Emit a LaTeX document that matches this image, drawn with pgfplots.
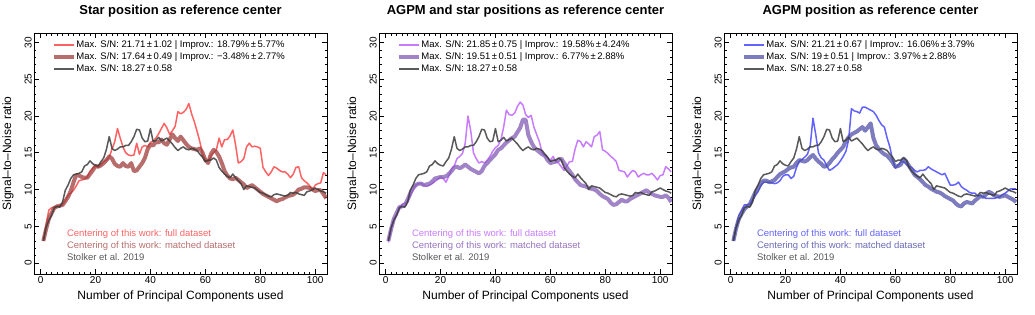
\documentclass[border=0pt]{standalone}
\usepackage{fontspec}
\setmainfont{Liberation Sans}
\usepackage{pgfplots}
\usepackage{pgfplotstable}
\pgfplotsset{compat=1.18}

\definecolor{redfull}{RGB}{255,70,70}
\definecolor{redmatch}{RGB}{160,60,60}
\definecolor{purfull}{RGB}{190,100,255}
\definecolor{purmatch}{RGB}{130,90,180}
\definecolor{blufull}{RGB}{70,70,255}
\definecolor{blumatch}{RGB}{80,80,170}
\definecolor{stolk}{RGB}{60,60,60}

% Stolker et al. 2019 reference curve (same in all panels)
\pgfplotstableread[row sep=\\]{
x y \\
1 3.0 \\ 2 4.8 \\ 3 5.8 \\ 4 6.5 \\ 5 7.5 \\ 6 7.7 \\ 7 7.6 \\ 8 8.3 \\ 9 9.9 \\ 10 10.6 \\
11 11.5 \\ 12 12.0 \\ 13 12.1 \\ 14 12.2 \\ 15 12.4 \\ 16 13.2 \\ 17 13.4 \\ 18 13.9 \\ 19 13.5 \\ 20 13.3 \\
21 13.2 \\ 22 13.8 \\ 23 14.3 \\ 24 15.5 \\ 25 17.2 \\ 26 15.6 \\ 27 15.3 \\ 28 15.5 \\ 29 15.8 \\ 30 15.8 \\
31 16.0 \\ 32 16.0 \\ 33 16.5 \\ 34 17.2 \\ 35 18.2 \\ 36 18.1 \\ 37 17.0 \\ 38 16.5 \\ 39 16.6 \\ 40 18.3 \\
41 16.5 \\ 42 16.7 \\ 43 17.1 \\ 44 16.6 \\ 45 16.8 \\ 46 17.0 \\ 47 16.6 \\ 48 16.2 \\ 49 15.7 \\ 50 15.3 \\
51 15.6 \\ 52 15.8 \\ 53 15.5 \\ 54 15.4 \\ 55 15.6 \\ 56 15.5 \\ 57 15.3 \\ 58 14.8 \\ 59 14.4 \\ 60 13.8 \\
61 14.0 \\ 62 14.0 \\ 63 14.3 \\ 64 14.0 \\ 65 13.0 \\ 66 12.5 \\ 67 12.1 \\ 68 11.8 \\ 69 11.6 \\ 70 12.1 \\
71 11.6 \\ 72 11.2 \\ 73 10.8 \\ 74 10.0 \\ 75 10.5 \\ 76 10.4 \\ 77 10.3 \\ 78 10.2 \\ 79 9.9 \\ 80 9.6 \\
81 9.5 \\ 82 9.3 \\ 83 9.1 \\ 84 9.0 \\ 85 9.3 \\ 86 9.4 \\ 87 9.3 \\ 88 9.2 \\ 89 9.1 \\ 90 9.2 \\
91 9.6 \\ 92 9.5 \\ 93 9.6 \\ 94 9.4 \\ 95 9.3 \\ 96 9.2 \\ 97 9.7 \\ 98 9.8 \\ 99 10.0 \\ 100 10.2 \\
101 10.0 \\ 102 9.8 \\ 103 9.7 \\ 104 9.5 \\
}\stolker

% star position as reference center: full, matched
\pgfplotstableread[row sep=\\]{
x full match \\
1 3.0 3.0 \\ 2 5.2 4.6 \\ 3 7.2 6.0 \\ 4 7.5 6.8 \\ 5 7.6 7.5 \\ 6 7.7 7.7 \\ 7 7.8 7.8 \\ 8 7.9 7.9 \\
9 8.5 8.4 \\ 10 9.2 9.0 \\ 11 9.5 9.8 \\ 12 9.9 11.0 \\ 13 10.5 12.0 \\ 14 11.2 11.9 \\ 15 11.3 11.7 \\
16 11.4 11.6 \\ 17 11.7 11.6 \\ 18 12.5 12.1 \\ 19 12.9 12.6 \\ 20 13.2 13.2 \\ 21 13.0 13.1 \\
22 13.4 13.3 \\ 23 13.8 13.6 \\ 24 14.0 14.0 \\ 25 14.4 14.5 \\ 26 15.5 14.2 \\ 27 16.5 13.5 \\
28 18.3 13.2 \\ 29 17.0 13.1 \\ 30 15.8 13.6 \\ 31 15.0 13.2 \\ 32 14.7 13.1 \\ 33 14.6 13.6 \\
34 14.7 12.5 \\ 35 16.3 12.6 \\ 36 14.8 13.1 \\ 37 15.8 13.6 \\ 38 16.0 14.3 \\ 39 15.8 15.5 \\
40 16.4 16.1 \\ 41 16.6 16.0 \\ 42 17.0 16.5 \\ 43 17.6 16.4 \\ 44 18.3 16.8 \\ 45 19.0 16.3 \\
46 18.4 16.1 \\ 47 17.5 16.8 \\ 48 18.0 17.5 \\ 49 18.6 17.0 \\ 50 20.6 16.6 \\ 51 20.3 17.2 \\
52 20.5 16.7 \\ 53 20.9 16.2 \\ 54 21.7 15.8 \\ 55 20.3 15.6 \\ 56 19.2 15.5 \\ 57 17.9 15.4 \\
58 16.5 15.6 \\ 59 14.8 15.0 \\ 60 14.0 14.0 \\ 61 13.8 13.6 \\ 62 14.5 14.8 \\ 63 15.0 15.4 \\
64 15.4 15.1 \\ 65 17.0 14.5 \\ 66 15.8 13.6 \\ 67 16.8 12.5 \\ 68 16.8 11.9 \\ 69 17.3 11.5 \\
70 18.1 11.4 \\ 71 16.1 11.6 \\ 72 13.6 11.3 \\ 73 13.8 11.0 \\ 74 14.2 10.7 \\ 75 15.8 10.2 \\
76 16.3 10.4 \\ 77 15.8 10.6 \\ 78 15.9 10.3 \\ 79 15.8 10.0 \\ 80 15.6 9.7 \\ 81 13.0 9.4 \\
82 12.4 9.2 \\ 83 11.9 9.0 \\ 84 12.4 8.8 \\ 85 13.1 8.6 \\ 86 12.9 8.4 \\ 87 12.6 8.6 \\
88 12.4 8.7 \\ 89 12.4 8.9 \\ 90 12.1 9.1 \\ 91 11.6 9.2 \\ 92 12.1 9.3 \\ 93 13.0 9.6 \\
94 13.1 10.0 \\ 95 11.6 10.1 \\ 96 11.2 10.3 \\ 97 10.9 10.3 \\ 98 10.5 10.2 \\ 99 9.9 10.0 \\
100 10.6 9.8 \\ 101 10.8 9.9 \\ 102 10.9 9.9 \\ 103 12.3 9.4 \\ 104 12.0 8.8 \\
}\starcen

% AGPM and star positions as reference center
\pgfplotstableread[row sep=\\]{
x full match \\
1 2.8 3.0 \\ 2 4.5 4.6 \\ 3 6.0 6.0 \\ 4 6.5 6.8 \\ 5 7.5 7.6 \\ 6 8.0 7.7 \\ 7 8.1 7.9 \\ 8 8.3 8.6 \\
9 9.1 9.5 \\ 10 9.9 10.2 \\ 11 10.6 10.6 \\ 12 10.8 10.8 \\ 13 10.8 10.8 \\ 14 10.6 10.6 \\
15 10.4 10.7 \\ 16 10.6 10.8 \\ 17 10.8 11.1 \\ 18 11.1 11.5 \\ 19 11.4 11.6 \\ 20 11.7 11.7 \\
21 11.5 11.7 \\ 22 11.0 11.8 \\ 23 11.8 12.1 \\ 24 12.8 12.5 \\ 25 13.2 13.0 \\ 26 14.2 13.1 \\
27 14.5 12.9 \\ 28 14.9 13.1 \\ 29 16.3 13.4 \\ 30 20.0 13.1 \\ 31 18.0 12.8 \\ 32 15.0 12.6 \\
33 14.2 12.4 \\ 34 13.6 12.2 \\ 35 13.8 12.5 \\ 36 13.6 13.2 \\ 37 14.0 13.6 \\ 38 14.5 14.0 \\
39 15.2 14.4 \\ 40 15.7 14.8 \\ 41 16.0 15.4 \\ 42 16.8 15.6 \\ 43 18.5 16.0 \\ 44 20.8 16.4 \\
45 20.2 16.7 \\ 46 20.1 17.0 \\ 47 20.4 17.2 \\ 48 21.3 17.8 \\ 49 21.9 18.4 \\ 50 21.5 19.5 \\
51 20.2 19.5 \\ 52 19.8 17.4 \\ 53 20.1 16.5 \\ 54 18.5 15.8 \\ 55 17.5 15.4 \\ 56 16.5 15.1 \\
57 15.0 14.8 \\ 58 14.6 14.6 \\ 59 14.3 14.0 \\ 60 14.0 13.6 \\ 61 14.5 13.7 \\ 62 13.8 13.8 \\
63 13.6 14.0 \\ 64 13.1 14.2 \\ 65 12.6 13.6 \\ 66 13.2 13.0 \\ 67 13.8 12.5 \\ 68 13.8 12.0 \\
69 15.5 11.4 \\ 70 16.7 11.0 \\ 71 16.5 10.6 \\ 72 15.8 10.5 \\ 73 16.5 10.4 \\ 74 16.2 10.2 \\
75 15.8 10.1 \\ 76 17.2 10.0 \\ 77 17.4 9.8 \\ 78 17.9 9.4 \\ 79 15.4 9.1 \\ 80 15.2 8.9 \\
81 14.9 8.7 \\ 82 14.5 8.2 \\ 83 14.2 7.9 \\ 84 13.8 8.0 \\ 85 12.6 8.3 \\ 86 12.5 8.6 \\
87 12.4 8.4 \\ 88 11.7 8.4 \\ 89 12.2 8.7 \\ 90 12.6 8.9 \\ 91 12.4 9.1 \\ 92 11.7 9.3 \\
93 12.0 9.5 \\ 94 12.2 9.7 \\ 95 12.0 9.9 \\ 96 12.0 9.6 \\ 97 12.2 9.4 \\ 98 11.8 9.2 \\
99 11.3 9.1 \\ 100 11.9 9.0 \\ 101 12.0 9.0 \\ 102 13.1 9.2 \\ 103 12.8 8.9 \\ 104 12.4 8.3 \\
}\bothcen

% AGPM position as reference center
\pgfplotstableread[row sep=\\]{
x full match \\
1 3.0 3.0 \\ 2 4.8 4.7 \\ 3 6.5 6.0 \\ 4 7.2 6.7 \\ 5 7.9 7.3 \\ 6 7.9 7.7 \\ 7 8.0 8.0 \\ 8 8.6 8.8 \\
9 9.2 9.6 \\ 10 9.7 10.2 \\ 11 10.5 10.8 \\ 12 11.0 11.2 \\ 13 11.0 11.2 \\ 14 11.0 11.0 \\
15 10.9 11.1 \\ 16 10.8 11.3 \\ 17 10.9 11.7 \\ 18 11.2 12.1 \\ 19 11.8 12.3 \\ 20 12.0 12.5 \\
21 12.0 12.8 \\ 22 11.5 13.0 \\ 23 11.8 13.1 \\ 24 13.0 13.6 \\ 25 13.8 14.0 \\ 26 14.1 13.9 \\
27 14.4 13.8 \\ 28 14.8 14.0 \\ 29 16.0 14.4 \\ 30 19.7 14.7 \\ 31 17.5 14.2 \\ 32 15.0 13.8 \\
33 14.3 13.5 \\ 34 14.0 13.1 \\ 35 13.2 13.2 \\ 36 12.6 13.6 \\ 37 12.8 14.1 \\ 38 13.1 14.5 \\
39 13.4 15.0 \\ 40 13.9 15.4 \\ 41 14.5 15.8 \\ 42 15.2 16.6 \\ 43 16.8 17.1 \\ 44 21.0 17.5 \\
45 20.7 17.7 \\ 46 20.6 17.9 \\ 47 20.4 18.2 \\ 48 21.2 18.5 \\ 49 21.2 18.0 \\ 50 21.0 18.5 \\
51 20.8 19.0 \\ 52 20.6 17.0 \\ 53 20.1 16.0 \\ 54 19.4 15.5 \\ 55 18.8 15.1 \\ 56 18.5 14.8 \\
57 17.0 14.6 \\ 58 15.8 14.2 \\ 59 14.0 13.7 \\ 60 12.9 13.1 \\ 61 13.3 13.2 \\ 62 13.8 13.4 \\
63 13.8 14.2 \\ 64 13.4 13.8 \\ 65 13.1 13.2 \\ 66 13.0 12.6 \\ 67 12.6 12.0 \\ 68 12.4 11.7 \\
69 12.6 11.4 \\ 70 12.6 11.0 \\ 71 12.7 10.6 \\ 72 13.1 10.4 \\ 73 12.8 10.1 \\ 74 12.6 9.9 \\
75 12.4 9.7 \\ 76 12.2 9.6 \\ 77 12.0 9.4 \\ 78 12.2 9.1 \\ 79 11.4 8.9 \\ 80 10.6 8.7 \\
81 10.6 8.5 \\ 82 10.7 8.1 \\ 83 11.0 7.8 \\ 84 10.4 7.7 \\ 85 10.1 8.1 \\ 86 9.9 8.3 \\
87 9.6 8.2 \\ 88 9.5 8.1 \\ 89 9.5 8.5 \\ 90 9.1 8.8 \\ 91 9.2 9.1 \\ 92 9.0 9.0 \\
93 8.8 9.3 \\ 94 8.8 9.7 \\ 95 8.8 9.5 \\ 96 8.8 9.2 \\ 97 8.9 9.1 \\ 98 9.0 9.0 \\
99 9.3 9.1 \\ 100 9.5 9.2 \\ 101 9.8 9.0 \\ 102 10.1 8.8 \\ 103 10.1 8.6 \\ 104 10.1 8.3 \\
}\agpmcen

\pgfplotsset{
  snr/.style={
    scale only axis, width=293pt, height=241pt,
    xmin=-2.4, xmax=104.3, ymin=-1.5, ymax=31.3,
    xtick={0,20,...,100}, ytick={0,5,...,30},
    minor x tick num=9, minor y tick num=4,
    tick align=inside, major tick length=5pt, minor tick length=2.5pt,
    tick style={black, line width=0.6pt},
    axis line style={line width=0.8pt},
    /pgf/number format/assume math mode=true,
    tick label style={font=\fontsize{10}{11}\selectfont},
    yticklabel style={rotate=90, anchor=south, inner sep=2pt},
    xticklabel style={inner sep=2pt},
    xlabel={Number of Principal Components used},
    ylabel={Signal--to--Noise ratio},
    label style={font=\fontsize{12}{13}\selectfont},
    xlabel style={at={(axis description cs:0.5,-0.091)}, anchor=center},
    ylabel style={at={(axis description cs:-0.089,0.5)}, anchor=center},
    title style={at={(axis description cs:0.5,1.066)}, anchor=center,
      font=\bfseries\fontsize{13}{14}\selectfont},
    legend style={at={(rel axis cs:0.062,0.975)}, anchor=north west,
      draw=none, fill=none, inner sep=0pt, row sep=0pt,
      font=\fontsize{9.5}{11}\selectfont,
      nodes={inner sep=0pt, text height=8.5pt, text depth=3.5pt}},
    legend cell align=left,
    legend image code/.code={\draw[#1] (0pt,0pt) -- (20pt,0pt);},
  },
  fullline/.style={line width=1.5pt, draw opacity=0.85, line join=round},
  matchline/.style={line width=4pt, draw opacity=0.75, line join=round},
  stolkline/.style={stolk, line width=1.5pt, draw opacity=0.85, line join=round},
}

\begin{document}
\begin{tikzpicture}
\useasboundingbox (-34pt,-40pt) rectangle (1001pt,274pt);

\begin{axis}[snr, at={(0pt,0pt)}, title={Star position as reference center}]
\addplot[redfull, fullline] table[x=x, y=full] {\starcen};
\addplot[redmatch, matchline] table[x=x, y=match] {\starcen};
\addplot[stolkline] table[x=x, y=y] {\stolker};
\legend{Max. S/N: 21.71\,±\,1.02 | Improv.: 18.79\%\,±\,5.77\%,
        Max. S/N: 17.64\,±\,0.49 | Improv.: −3.48\%\,±\,2.77\%,
        Max. S/N: 18.27\,±\,0.58}
\node[anchor=west, font=\fontsize{9.5}{11}\selectfont, text=redfull!85!white, inner sep=0pt] at (rel axis cs:0.112,0.166) {Centering of this work: full dataset};
\node[anchor=west, font=\fontsize{9.5}{11}\selectfont, text=redmatch!75!white, inner sep=0pt] at (rel axis cs:0.112,0.116) {Centering of this work: matched dataset};
\node[anchor=west, font=\fontsize{9.5}{11}\selectfont, text=stolk!85!white, inner sep=0pt] at (rel axis cs:0.112,0.070) {Stolker et al. 2019};
\end{axis}

\begin{axis}[snr, at={(345pt,0pt)}, title={AGPM and star positions as reference center}]
\addplot[purfull, fullline] table[x=x, y=full] {\bothcen};
\addplot[purmatch, matchline] table[x=x, y=match] {\bothcen};
\addplot[stolkline] table[x=x, y=y] {\stolker};
\legend{Max. S/N: 21.85\,±\,0.75 | Improv.: 19.58\%\,±\,4.24\%,
        Max. S/N: 19.51\,±\,0.51 | Improv.: 6.77\%\,±\,2.88\%,
        Max. S/N: 18.27\,±\,0.58}
\node[anchor=west, font=\fontsize{9.5}{11}\selectfont, text=purfull!85!white, inner sep=0pt] at (rel axis cs:0.112,0.166) {Centering of this work: full dataset};
\node[anchor=west, font=\fontsize{9.5}{11}\selectfont, text=purmatch!85!white, inner sep=0pt] at (rel axis cs:0.112,0.116) {Centering of this work: matched dataset};
\node[anchor=west, font=\fontsize{9.5}{11}\selectfont, text=stolk!85!white, inner sep=0pt] at (rel axis cs:0.112,0.070) {Stolker et al. 2019};
\end{axis}

\begin{axis}[snr, at={(690pt,0pt)}, title={AGPM position as reference center}]
\addplot[blufull, fullline] table[x=x, y=full] {\agpmcen};
\addplot[blumatch, matchline] table[x=x, y=match] {\agpmcen};
\addplot[stolkline] table[x=x, y=y] {\stolker};
\legend{Max. S/N: 21.21\,±\,0.67 | Improv.: 16.06\%\,±\,3.79\%,
        Max. S/N: 19\,±\,0.51 | Improv.: 3.97\%\,±\,2.88\%,
        Max. S/N: 18.27\,±\,0.58}
\node[anchor=west, font=\fontsize{9.5}{11}\selectfont, text=blufull!85!white, inner sep=0pt] at (rel axis cs:0.112,0.166) {Centering of this work: full dataset};
\node[anchor=west, font=\fontsize{9.5}{11}\selectfont, text=blumatch!85!white, inner sep=0pt] at (rel axis cs:0.112,0.116) {Centering of this work: matched dataset};
\node[anchor=west, font=\fontsize{9.5}{11}\selectfont, text=stolk!85!white, inner sep=0pt] at (rel axis cs:0.112,0.070) {Stolker et al. 2019};
\end{axis}
\end{tikzpicture}
\end{document}
